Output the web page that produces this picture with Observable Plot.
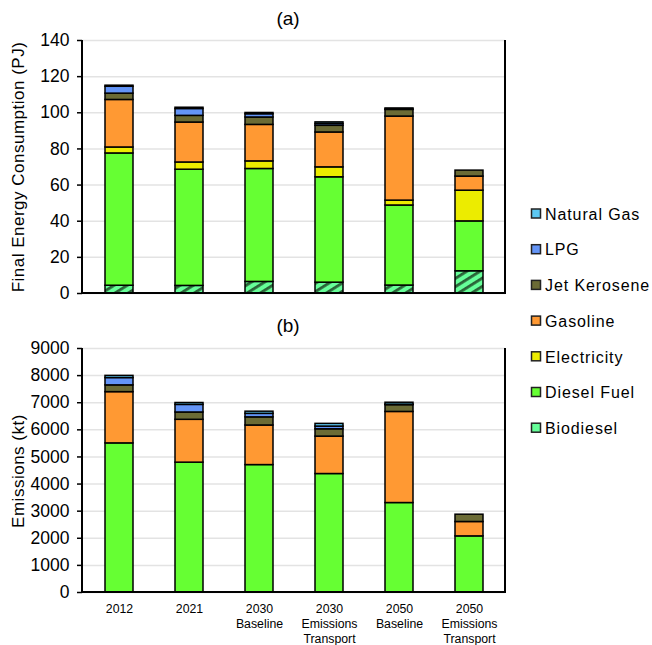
<!DOCTYPE html>
<html>
<head>
<meta charset="utf-8">
<script src="https://cdn.jsdelivr.net/npm/d3@7"></script>
<script src="https://cdn.jsdelivr.net/npm/@observablehq/plot@0.6"></script>
<style>
  html, body { margin: 0; padding: 0; background: #fff; }
  #wrap { position: relative; width: 652px; height: 645px; font-family: "Liberation Sans", Arial, sans-serif; }
  .abs { position: absolute; }
  .title { font-size: 19px; color: #000; line-height: 22px; }
  .ylab { font-size: 17px; letter-spacing: 0.5px; line-height: 20px; color: #000; white-space: nowrap; transform-origin: center center; }
</style>
</head>
<body>
<div id="wrap"></div>
<script>
// ---- Data ----
const categories = ["2012", "2021", "2030 Baseline", "2030 Emissions Transport", "2050 Baseline", "2050 Emissions Transport"];
const xTickLabels = ["2012", "2021", "2030\nBaseline", "2030\nEmissions\nTransport", "2050\nBaseline", "2050\nEmissions\nTransport"];
const fuels = ["Biodiesel", "Diesel Fuel", "Electricity", "Gasoline", "Jet Kerosene", "LPG", "Natural Gas"]; // bottom to top
const legendOrder = ["Natural Gas", "LPG", "Jet Kerosene", "Gasoline", "Electricity", "Diesel Fuel", "Biodiesel"];

// Final energy consumption (PJ)
const energyBiodiesel   = [4.3, 4.2, 6.4, 6.0, 4.4, 12.3];
const energyDiesel      = [73.2, 64.3, 62.5, 58.3, 44.3, 27.6];
const energyElectricity = [3.3, 4.0, 4.2, 5.5, 2.7, 17.0];
const energyGasoline    = [26.3, 22.1, 20.2, 19.3, 46.5, 7.8];
const energyJet         = [3.5, 3.7, 4.1, 3.7, 3.7, 3.3];
const energyLPG         = [3.8, 3.8, 1.8, 1.0, 0.2, 0];
const energyNatGas      = [0.6, 0.7, 0.7, 0.9, 0.6, 0];

// Emissions (kt)
const emisBiodiesel   = [0, 0, 0, 0, 0, 0];
const emisDiesel      = [5500, 4790, 4700, 4370, 3300, 2070];
const emisElectricity = [0, 0, 0, 0, 0, 0];
const emisGasoline    = [1890, 1580, 1460, 1380, 3360, 530];
const emisJet         = [250, 270, 300, 270, 250, 270];
const emisLPG         = [270, 280, 130, 100, 20, 0];
const emisNatGas      = [80, 70, 80, 100, 70, 0];

const energyTicks = [0, 20, 40, 60, 80, 100, 120, 140];
const emisTicks = [0, 1000, 2000, 3000, 4000, 5000, 6000, 7000, 8000, 9000];

// ---- Styles ----
const fuelColors = {
  "Biodiesel": "url(#bioHatch)",
  "Diesel Fuel": "#66ff33",
  "Electricity": "#ecec00",
  "Gasoline": "#ff9933",
  "Jet Kerosene": "#6b6b35",
  "LPG": "#6495f7",
  "Natural Gas": "#5cc8f2"
};
const legendColors = Object.assign({}, fuelColors, {"Biodiesel": "#66ff99"});

function rowsFrom(series) {
  const rows = [];
  fuels.forEach((f, i) => {
    series[i].forEach((v, j) => {
      if (v > 0) rows.push({cat: categories[j], fuel: f, value: v});
    });
  });
  return rows;
}
const energyRows = rowsFrom([energyBiodiesel, energyDiesel, energyElectricity, energyGasoline, energyJet, energyLPG, energyNatGas]);
const emisRows = rowsFrom([emisBiodiesel, emisDiesel, emisElectricity, emisGasoline, emisJet, emisLPG, emisNatGas]);

const FONT = "Liberation Sans, Arial, sans-serif";

function sideLines(index, scales, values, dims) {
  const ns = "http://www.w3.org/2000/svg";
  const g = document.createElementNS(ns, "g");
  const x1 = dims.marginLeft, x2 = dims.width - dims.marginRight;
  const y1 = dims.marginTop, y2 = dims.height - dims.marginBottom;
  const mk = (a, b, c, d) => {
    const l = document.createElementNS(ns, "line");
    l.setAttribute("x1", a); l.setAttribute("y1", b); l.setAttribute("x2", c); l.setAttribute("y2", d);
    l.setAttribute("stroke", "#000"); l.setAttribute("stroke-width", 2);
    g.appendChild(l);
  };
  mk(x1, y1, x1, y2 + 1);
  mk(x2, y1, x2, y2 + 1);
  mk(x1 - 1, y2, x2 + 1, y2);
  return g;
}

function makeChart(rows, ticks, yMax, height, marginTop, marginBottom, showX) {
  const marks = [
    Plot.gridY(ticks, {stroke: "#e3e3e3", strokeOpacity: 1, strokeWidth: 1.5}),
    Plot.barY(rows, Plot.stackY({x: "cat", y: "value", fill: "fuel", order: fuels, stroke: "#000", strokeWidth: 1.5})),
    Plot.axisY(ticks, {tickSize: 5, tickPadding: 8, fontSize: 17.5, label: null, stroke: "#000", strokeWidth: 1.5,
      tickFormat: (d) => String(d)}),
    sideLines
  ];
  if (showX) {
    marks.push(Plot.axisX({tickSize: 0, tickPadding: 10, fontSize: 12.3, lineHeight: 1.22, label: null,
      tickFormat: (d) => xTickLabels[categories.indexOf(d)]}));
  }
  const svg = Plot.plot({
    width: 510, height, marginLeft: 82, marginRight: 5, marginTop, marginBottom,
    style: {fontFamily: FONT, color: "#000", background: "transparent", overflow: "visible"},
    x: {type: "band", domain: categories, paddingInner: 0.6, paddingOuter: 0.3, axis: null},
    y: {domain: [0, yMax], axis: null},
    color: {domain: fuels, range: fuels.map(f => fuelColors[f])},
    marks
  });
  const ns = "http://www.w3.org/2000/svg";
  const defs = document.createElementNS(ns, "defs");
  defs.innerHTML = `<pattern id="bioHatch" patternUnits="userSpaceOnUse" width="7" height="7" patternTransform="rotate(58)">
      <rect width="7" height="7" fill="#66ff99"></rect>
      <rect x="0" y="0" width="2.8" height="7" fill="#2a6337"></rect>
    </pattern>`;
  svg.insertBefore(defs, svg.firstChild);
  return svg;
}

const wrap = document.getElementById("wrap");

const chartA = makeChart(energyRows, energyTicks, 140, 300, 40, 7, false);
chartA.style.position = "absolute"; chartA.style.left = "0px"; chartA.style.top = "0px";
wrap.appendChild(chartA);

const chartB = makeChart(emisRows, emisTicks, 9000, 345, 48, 53, true);
chartB.style.position = "absolute"; chartB.style.left = "0px"; chartB.style.top = "300px";
wrap.appendChild(chartB);

function addDiv(text, cls, css) {
  const d = document.createElement("div");
  d.className = "abs " + cls;
  d.textContent = text;
  Object.assign(d.style, css);
  wrap.appendChild(d);
  return d;
}
addDiv("(a)", "title", {left: "258px", width: "60px", textAlign: "center", top: "8px"});
addDiv("(b)", "title", {left: "258px", width: "60px", textAlign: "center", top: "315px"});
addDiv("Final Energy Consumption (PJ)", "ylab", {left: "-131px", width: "300px", textAlign: "center", top: "157px", transform: "rotate(-90deg)"});
addDiv("Emissions (kt)", "ylab", {left: "-131px", width: "300px", textAlign: "center", top: "461px", transform: "rotate(-90deg)"});

const lg = d3.select(wrap).append("svg")
  .attr("width", 130).attr("height", 250)
  .style("position", "absolute").style("left", "522px").style("top", "195px");
legendOrder.forEach((f, i) => {
  const y = 19 + i * 35.7;
  lg.append("rect").attr("x", 9.5).attr("y", y - 5).attr("width", 9).attr("height", 9)
    .attr("fill", legendColors[f]).attr("stroke", "#222").attr("stroke-width", 1.5);
  lg.append("text").attr("x", 23).attr("y", y).attr("dy", "0.36em")
    .attr("font-family", FONT).attr("font-size", 16).attr("letter-spacing", "0.9px")
    .attr("fill", "#000").text(f);
});
</script>
</body>
</html>
